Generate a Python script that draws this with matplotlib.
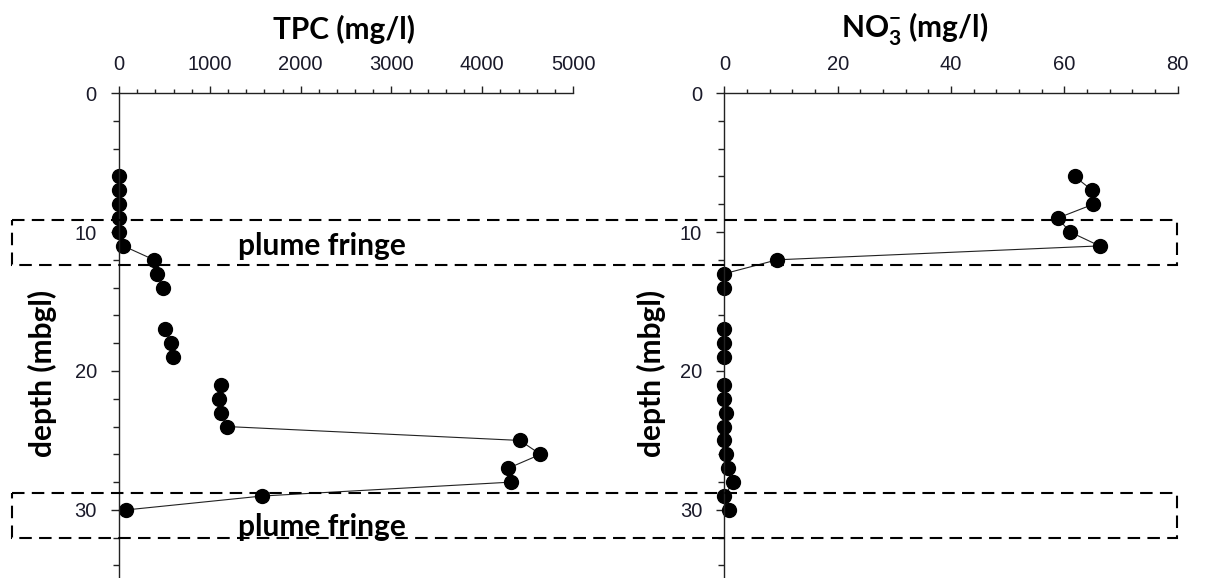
import numpy as np
import matplotlib
matplotlib.use("Agg")
import matplotlib.pyplot as plt
from matplotlib.patches import Rectangle
from matplotlib.transforms import blended_transform_factory
from matplotlib.ticker import MultipleLocator

nan = np.nan

# depth below ground level (m); gaps are depths without samples
depth = [6, 7, 8, 9, 10, 11, 12, 13, 14, 15, 16, 17, 18, 19, 20,
         21, 22, 23, 24, 25, 26, 27, 28, 29, 30]
tpc = [0, 0, 0, 0, 0, 47, 384, 418, 485, nan, nan, 510, 573, 599, nan,
       1121, 1104, 1121, 1189, 4413, 4641, 4286, 4316, 1577, 80]
no3 = [61.8, 64.9, 65.1, 58.8, 61.0, 66.2, 9.3, 0, 0, nan, nan, 0, 0, 0, nan,
       0, 0, 0.2, 0, 0, 0.3, 0.7, 1.5, 0, 0.8]

# plume fringe zones (depth top, depth bottom)
fringe_zones = [(9.15, 12.4), (28.75, 32.0)]
fringe_label_depth = [11.0, 31.2]

TICK_FONT = "Liberation Sans"
BOLD_FONT = "Lato"

plt.rcParams["mathtext.fontset"] = "custom"
plt.rcParams["mathtext.rm"] = BOLD_FONT
plt.rcParams["mathtext.bf"] = BOLD_FONT + ":bold"

fig = plt.figure(figsize=(12.05, 5.78), dpi=100)
ax1 = fig.add_axes([0.0988, 0.0, 0.3768, 0.839])
ax2 = fig.add_axes([0.6012, 0.0, 0.3762, 0.839])


def style_axis(ax, xmax, xmajor, xminor):
    ax.set_xlim(0, xmax)
    ax.set_ylim(34.9, 0)
    for side in ["right", "bottom"]:
        ax.spines[side].set_visible(False)
    for side in ["top", "left"]:
        ax.spines[side].set_linewidth(1.0)
        ax.spines[side].set_color("#222222")
    ax.xaxis.tick_top()
    ax.xaxis.set_major_locator(MultipleLocator(xmajor))
    ax.xaxis.set_minor_locator(MultipleLocator(xminor))
    ax.yaxis.set_major_locator(MultipleLocator(10))
    ax.yaxis.set_minor_locator(MultipleLocator(2))
    ax.tick_params(axis="x", which="major", direction="out", length=5,
                   width=1, pad=9, color="#222222")
    ax.tick_params(axis="x", which="minor", direction="out", length=3,
                   width=1, color="#222222")
    ax.tick_params(axis="y", which="major", direction="out", length=6,
                   width=1, pad=10, color="#222222")
    ax.tick_params(axis="y", which="minor", direction="out", length=4.3,
                   width=1, color="#222222")
    for lab in ax.get_xticklabels() + ax.get_yticklabels():
        lab.set_family(TICK_FONT)
        lab.set_fontsize(14.5)
        lab.set_color("#1a1a2a")
    ax.set_facecolor("none")


ax1.plot(tpc, depth, color="#222222", lw=0.8, marker="o", markersize=10,
         markerfacecolor="black", markeredgecolor="black", clip_on=False)
ax2.plot(no3, depth, color="#222222", lw=0.8, marker="o", markersize=10,
         markerfacecolor="black", markeredgecolor="black", clip_on=False)

style_axis(ax1, 5000, 1000, 200)
style_axis(ax2, 80, 20, 4)

# titles
fig.text(344 / 1205, 1 - 29 / 578, "TPC (mg/l)", ha="center", va="center",
         fontsize=21.5, fontweight="bold", family=BOLD_FONT)
fig.text(915 / 1205, 1 - 29 / 578, r"NO$_{\mathbf{3}}^{\mathbf{-}}$ (mg/l)",
         ha="center", va="center", fontsize=21.5, fontweight="bold",
         family=BOLD_FONT)

# y labels
for xpx in [42, 651]:
    fig.text(xpx / 1205, 1 - 373 / 578, "depth (mbgl)", ha="center",
             va="center", rotation=90, fontsize=21.5, fontweight="bold",
             family=BOLD_FONT)

# dashed plume fringe boxes spanning both panels
trans = blended_transform_factory(fig.transFigure, ax1.transData)
for (top, bottom), lab_depth in zip(fringe_zones, fringe_label_depth):
    rect = Rectangle((12 / 1205, top), (1177 - 12) / 1205, bottom - top,
                     transform=trans, fill=False, edgecolor="black",
                     lw=1.5, linestyle=(0, (6, 3.5)), clip_on=False)
    fig.add_artist(rect)
    fig.text(322 / 1205, lab_depth, "plume fringe", transform=trans,
             ha="center", va="center", fontsize=21.5, fontweight="bold",
             family=BOLD_FONT)

plt.savefig("out.png", dpi=100)
plt.close()
